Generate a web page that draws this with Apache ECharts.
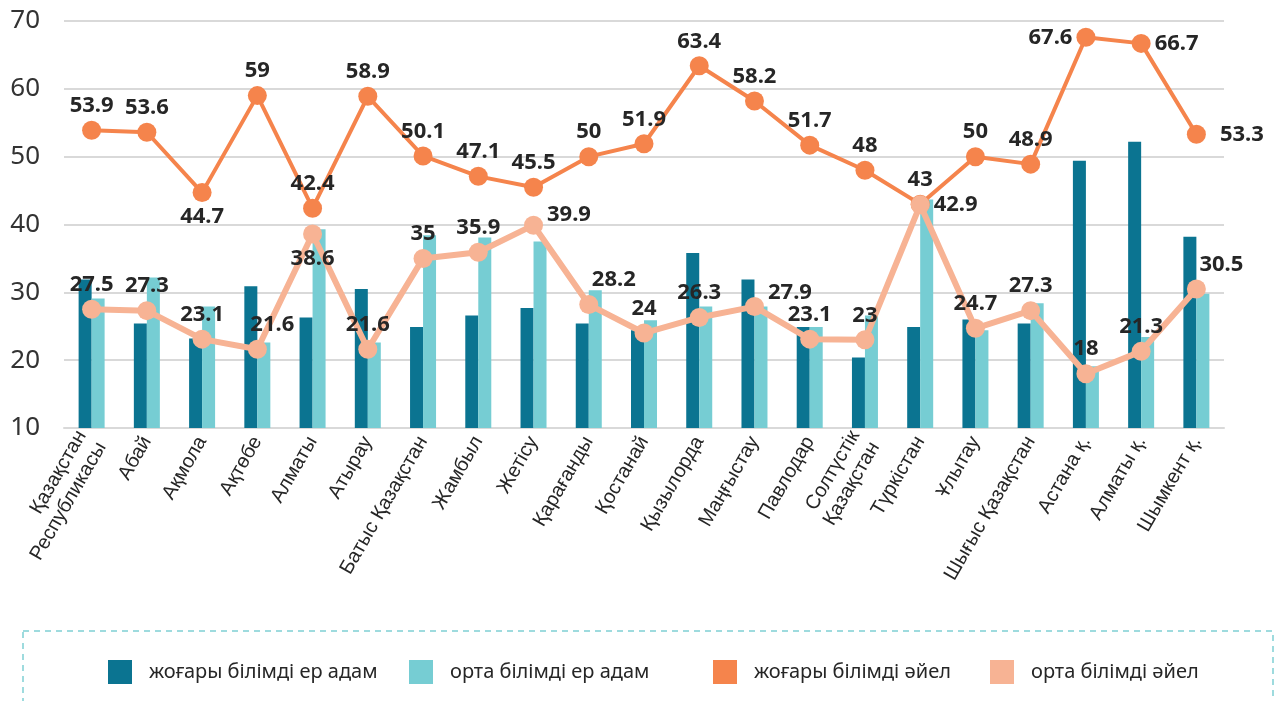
<!DOCTYPE html>
<html>
<head>
<meta charset="utf-8">
<style>
  html, body { margin: 0; padding: 0; background: #fff; }
  #chart { width: 1276px; height: 701px; }
</style>
<script src="https://cdn.jsdelivr.net/npm/echarts@6/dist/echarts.min.js"></script>
</head>
<body>
<div id="chart"></div>
<script>
// аймақтар
var regions = ['Қазақстан\nРеспубликасы', 'Абай', 'Ақмола', 'Ақтөбе', 'Алматы', 'Атырау', 'Батыс Қазақстан',
    'Жамбыл', 'Жетісу', 'Қарағанды', 'Қостанай', 'Қызылорда', 'Маңғыстау', 'Павлодар', 'Солтүстік\nҚазақстан',
    'Түркістан', 'Ұлытау', 'Шығыс Қазақстан', 'Астана қ.', 'Алматы қ.', 'Шымкент қ.'];

var maleHigher = [31.9, 25.4, 23.2, 30.9, 26.3, 30.5, 24.9, 26.6, 27.7, 25.4, 24.4, 35.8, 31.9, 24.9, 20.4, 24.9, 26.0, 25.4, 49.4, 52.2, 38.2];
var maleSecondary = [29.1, 32.2, 27.9, 22.6, 39.3, 22.6, 38.4, 38.1, 37.5, 30.3, 25.9, 27.9, 27.9, 24.9, 26.6, 43.7, 24.4, 28.4, 19.1, 23.4, 29.8];
var femaleHigher = [53.9, 53.6, 44.7, 59, 42.4, 58.9, 50.1, 47.1, 45.5, 50, 51.9, 63.4, 58.2, 51.7, 48, 43, 50, 48.9, 67.6, 66.7, 53.3];
var femaleSecondary = [27.5, 27.3, 23.1, 21.6, 38.6, 21.6, 35, 35.9, 39.9, 28.2, 24, 26.3, 27.9, 23.1, 23, 42.9, 24.7, 27.3, 18, 21.3, 30.5];

var seriesNames = ['жоғары білімді ер адам', 'орта білімді ер адам', 'жоғары білімді әйел', 'орта білімді әйел'];

// жазулардың орны (әдепкі - жоғарыда)
var orangeLabelPos = { 2: { position: 'bottom' }, 18: { position: 'left' }, 19: { position: 'right' }, 20: { position: 'right', distance: 14 } };
var salmonLabelPos = {
    3: { position: 'top', offset: [15, 0] },
    4: { position: 'bottom' },
    8: { position: 'right', offset: [0, -10] },
    9: { position: 'top', offset: [25, 0] },
    12: { position: 'right', offset: [0, -14] },
    15: { position: 'right' },
    20: { position: 'top', offset: [25, 0] }
};

function withLabels(values, pos) {
    return values.map(function (v, i) {
        return pos[i] ? { value: v, label: pos[i] } : v;
    });
}

var labelStyle = {
    show: true,
    position: 'top',
    distance: 4,
    color: '#262626',
    fontSize: 22,
    fontWeight: 'bold',
    fontFamily: 'Noto Sans'
};

// легенда - әр элемент өз орнында
var legendLeft = [103, 404, 708, 985];
var legends = seriesNames.map(function (name, i) {
    return {
        data: [name],
        top: 655,
        left: legendLeft[i],
        itemWidth: 24,
        itemHeight: 24,
        icon: 'rect',
        selectedMode: false,
        textStyle: { fontSize: 20, color: '#262626', fontFamily: 'Noto Sans', padding: [0, 0, 0, 12] }
    };
});

var myChart = echarts.init(document.getElementById('chart'));
var option = {
    animation: false,
    color: ['#0b7491', '#76cdd3', '#f5844c', '#f7b394'],
    grid: { left: 64, right: 52, top: 21, bottom: 273 },
    legend: legends,
    graphic: [{
        type: 'rect',
        shape: { x: 23, y: 631, width: 1250, height: 90 },
        style: { fill: 'none', stroke: '#7fd0d4', lineWidth: 1.5, lineDash: [6, 5] }
    }],
    xAxis: {
        type: 'category',
        data: regions,
        axisTick: { show: false },
        axisLine: { lineStyle: { color: '#d9d9d9', width: 2 } },
        axisLabel: {
            rotate: 60,
            interval: 0,
            margin: 10,
            fontSize: 20,
            lineHeight: 23,
            color: '#262626',
            fontFamily: 'Liberation Sans'
        }
    },
    yAxis: {
        type: 'value',
        min: 10,
        max: 70,
        interval: 10,
        axisLine: { show: false },
        axisTick: { show: false },
        splitLine: { lineStyle: { color: '#d9d9d9', width: 2 } },
        axisLabel: { fontSize: 26, color: '#333', margin: 24, fontFamily: 'Noto Sans' }
    },
    series: [
        { name: seriesNames[0], type: 'bar', data: maleHigher, barWidth: 13, barGap: '0%' },
        { name: seriesNames[1], type: 'bar', data: maleSecondary, barWidth: 13, barGap: '0%' },
        {
            name: seriesNames[2], type: 'line', data: withLabels(femaleHigher, orangeLabelPos),
            symbol: 'circle', symbolSize: 19, lineStyle: { width: 4 }, label: labelStyle, z: 3
        },
        {
            name: seriesNames[3], type: 'line', data: withLabels(femaleSecondary, salmonLabelPos),
            symbol: 'circle', symbolSize: 19, lineStyle: { width: 6 }, label: labelStyle, z: 4
        }
    ]
};
myChart.setOption(option);
</script>
</body>
</html>
